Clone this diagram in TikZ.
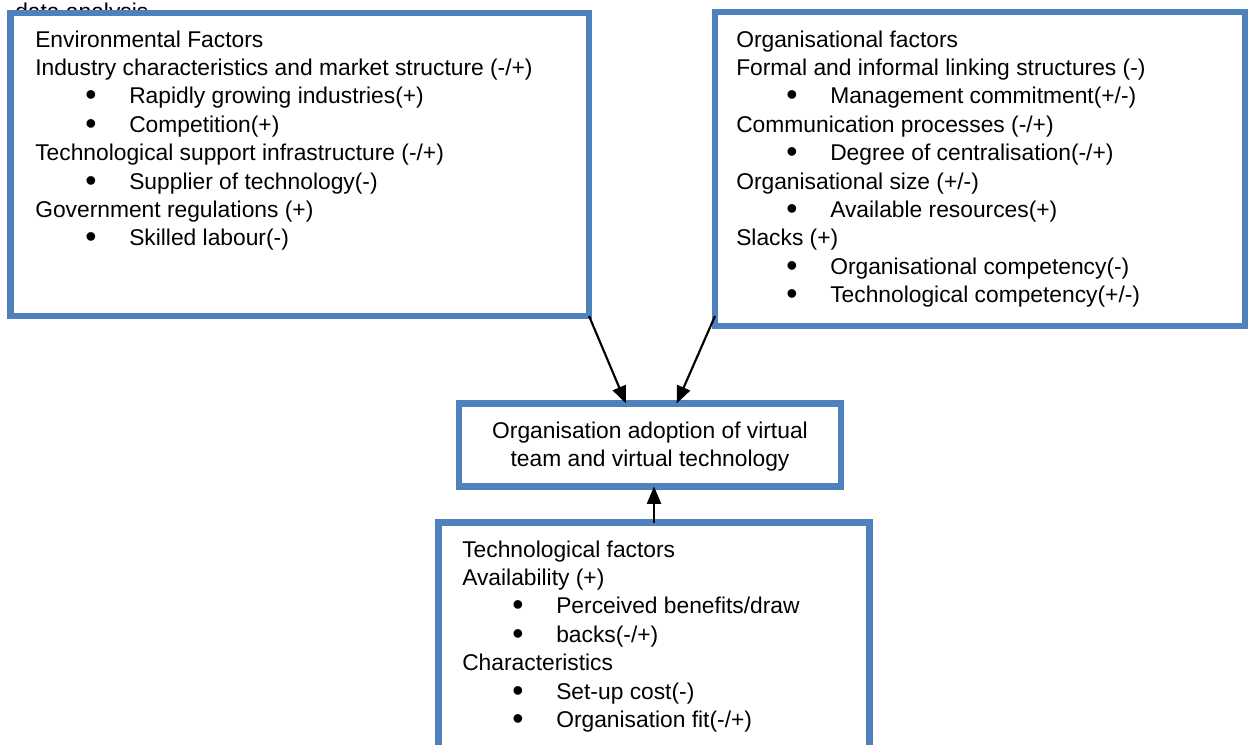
\documentclass[tikz,border=0pt]{standalone}
\usepackage{fontspec}
\setmainfont{Liberation Sans}
\usetikzlibrary{arrows.meta,calc}
\definecolor{boxblue}{RGB}{79,129,189}

% one heading line and one bulleted line of a factor list
\newcommand\hd[1]{\par\noindent#1}
\newcommand\bigdot{\smash{\raisebox{-1.6pt}{\scalebox{1.4}{\textbullet}}}}
\newcommand\itm[1]{\par\noindent\hspace*{37.5pt}\makebox[33pt][l]{\bigdot}#1}

\tikzset{
  factor/.style={draw=boxblue, line width=4.9pt, fill=white, outer sep=0pt,
                 inner sep=0pt, anchor=north west},
  body/.style={anchor=base west, inner sep=0pt,
               font=\fontsize{17.1pt}{21.3pt}\selectfont},
  arr/.style={line width=1.6pt, -{Triangle[length=13pt,width=10.5pt]}}
}

\begin{document}
\begin{tikzpicture}[x=0.75pt,y=-0.75pt]
\useasboundingbox (0,0) rectangle (1248,744);
\clip (0,0) rectangle (1248,744);

% heading line of the page, partly covered by the first box
\node[body] (heading) at (15,19) {data analysis};

% the four boxes
\node[factor, minimum width=433.9pt, minimum height=227.25pt] (env) at (10.5,13) {};
\node[factor, minimum width=397.9pt, minimum height=235.5pt] (org) at (715,12) {};
\node[factor, minimum width=286.5pt, minimum height=62.25pt] (adopt) at (459,403.5) {};
\node[factor, minimum width=323.25pt, minimum height=180pt] (tech) at (438.5,522.5) {};

% box contents
\node[body] (envtext) at (35,47) {\parbox[t]{420pt}{%
  \hd{Environmental Factors}
  \hd{Industry characteristics and market structure (-/+)}
  \itm{Rapidly growing industries(+)}
  \itm{Competition(+)}
  \hd{Technological support infrastructure (-/+)}
  \itm{Supplier of technology(-)}
  \hd{Government regulations (+)}
  \itm{Skilled labour(-)}}};

\node[body] (orgtext) at (736,47) {\parbox[t]{380pt}{%
  \hd{Organisational factors}
  \hd{Formal and informal linking structures (-)}
  \itm{Management commitment(+/-)}
  \hd{Communication processes (-/+)}
  \itm{Degree of centralisation(-/+)}
  \hd{Organisational size (+/-)}
  \itm{Available resources(+)}
  \hd{Slacks (+)}
  \itm{Organisational competency(-)}
  \itm{Technological competency(+/-)}}};

\node[body, anchor=base] (adopttext) at (650,438) {\parbox[t]{285pt}{\centering
  Organisation adoption of virtual\par team and virtual technology}};

\node[body] (techtext) at (462,557) {\parbox[t]{310pt}{%
  \hd{Technological factors}
  \hd{Availability (+)}
  \itm{Perceived benefits/draw}
  \itm{backs(-/+)}
  \hd{Characteristics}
  \itm{Set-up cost(-)}
  \itm{Organisation fit(-/+)}}};

% influences on adoption
\draw[arr] (env.south east) -- ([xshift=-18pt]adopt.north);
\draw[arr] ([shift={(0,-10)}]org.south west) -- ([xshift=20pt]adopt.north);
\draw[arr] (tech.north) -- (tech.north |- adopt.south);
\end{tikzpicture}
\end{document}
